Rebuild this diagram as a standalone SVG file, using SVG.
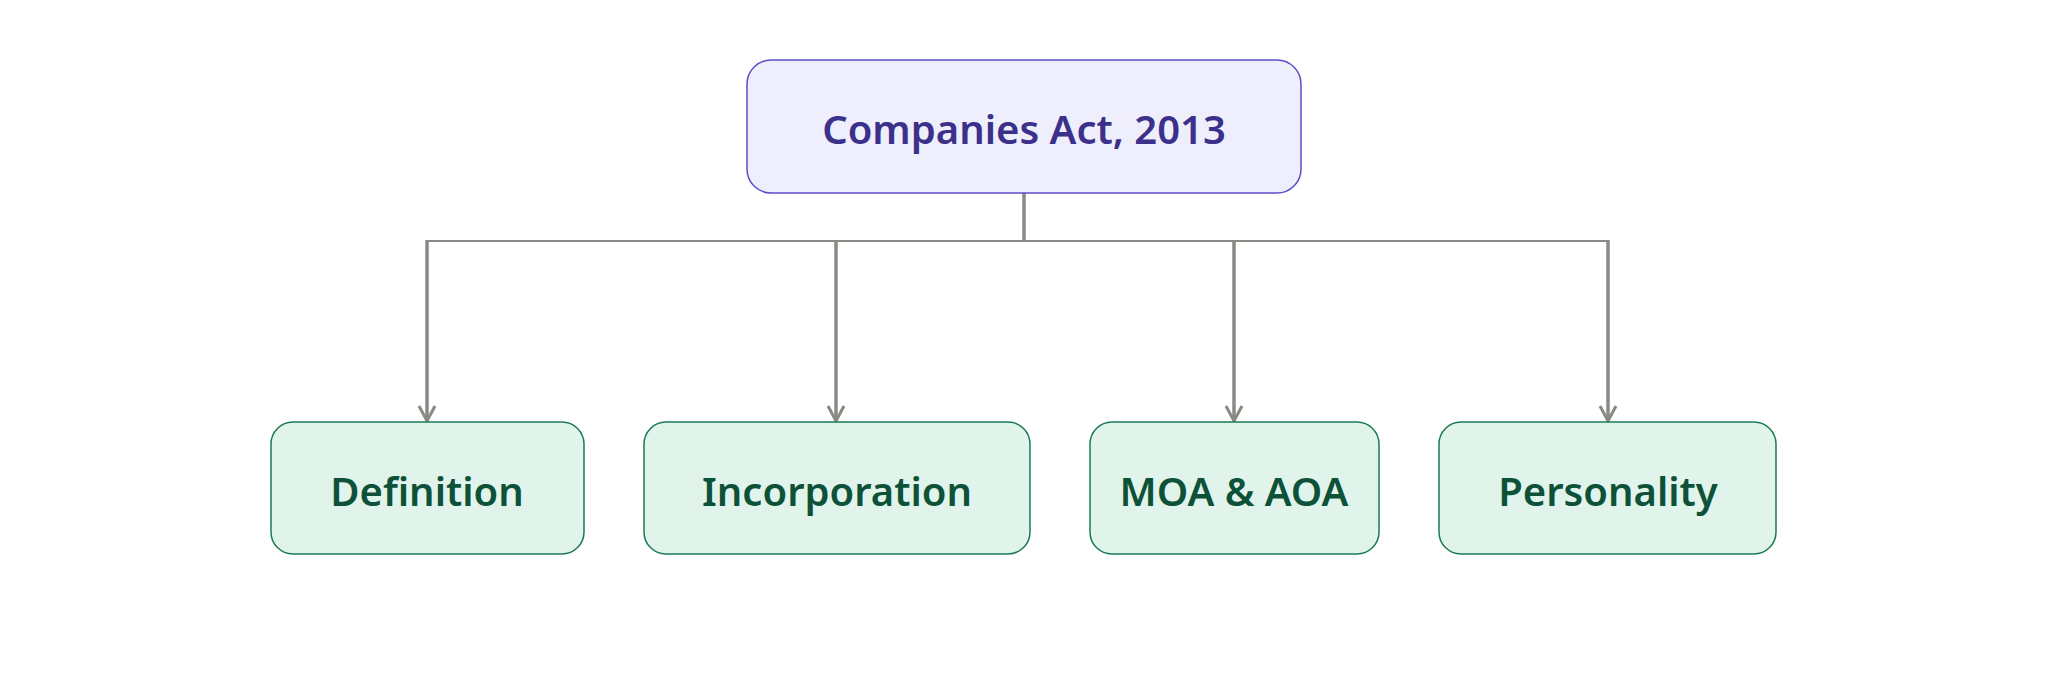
<svg xmlns="http://www.w3.org/2000/svg" width="2048" height="675" viewBox="0 0 2048 675">
<style>
.t{font-family:"Noto Sans","Open Sans",sans-serif;font-weight:600;font-size:40px;text-anchor:middle;dominant-baseline:central}
.c{fill:#e1f4ec;stroke:#1c7a52;stroke-width:1.5}
.ct{fill:#0d5238}
.e{stroke:#8a8a85;stroke-width:3.5;fill:none}
</style>
<defs>
<marker id="a" viewBox="0 0 20 20" refX="18" refY="10" markerWidth="20" markerHeight="20" markerUnits="userSpaceOnUse" orient="auto">
<path d="M3,2 L18,10 L3,18" fill="none" stroke="#8a8a85" stroke-width="3"/>
</marker>
</defs>
<rect width="2048" height="675" fill="#fff"/>
<g id="connectors">
<path class="e" d="M1024,193 V240"/>
<path class="e" style="stroke-width:2" d="M427,241 H1608"/>
<path class="e" marker-end="url(#a)" d="M427,240 V421"/>
<path class="e" marker-end="url(#a)" d="M836,240 V421"/>
<path class="e" marker-end="url(#a)" d="M1234,240 V421"/>
<path class="e" marker-end="url(#a)" d="M1608,240 V421"/>
</g>
<g id="root">
<rect x="747" y="60" width="554" height="133" rx="24" fill="#efeefd" stroke="#5b4fc6" stroke-width="1.5"/>
<text class="t" x="1024" y="128" fill="#3b318a">Companies Act, 2013</text>
</g>
<g id="definition">
<rect class="c" x="271" y="422" width="313" height="132" rx="22"/>
<text class="t ct" x="427" y="490">Definition</text>
</g>
<g id="incorporation">
<rect class="c" x="644" y="422" width="386" height="132" rx="22"/>
<text class="t ct" x="837" y="490">Incorporation</text>
</g>
<g id="moa">
<rect class="c" x="1090" y="422" width="289" height="132" rx="22"/>
<text class="t ct" x="1234" y="490">MOA &amp; AOA</text>
</g>
<g id="personality">
<rect class="c" x="1439" y="422" width="337" height="132" rx="22"/>
<text class="t ct" x="1608" y="490">Personality</text>
</g>
</svg>
